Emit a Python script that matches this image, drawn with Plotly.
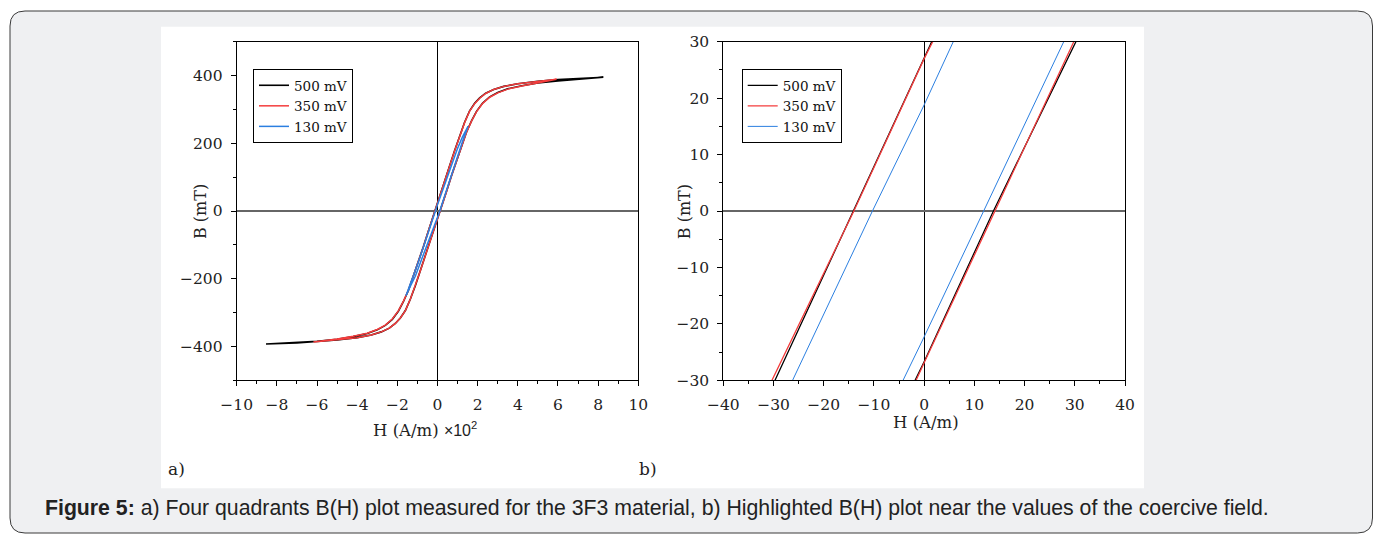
import plotly.graph_objects as go

# ---------------- data (H in A/m, B in mT) ----------------
series_names = ["500 mV", "350 mV", "130 mV"]

# 500 mV : descending branch (upper) then ascending branch (lower)
H_500_down = [826, 700, 600, 500, 400, 330, 280, 240, 210, 185, 160, 135, 110, 85, 60, 30, 1.5, 0, -14.1, -29.7,
              -45, -70, -95, -120, -145, -170, -195, -225, -260, -300, -350, -420, -500, -600, -700, -854]
B_500_down = [395, 392, 388, 383, 376, 368, 359, 348, 334, 318, 296, 262, 222, 178, 133, 80, 30, 27.1, 0, -30,
              -58, -105, -150, -195, -235, -268, -296, -320, -338, -351, -362, -371, -379, -385, -389, -393]
H_500_up = [-854, -700, -600, -500, -400, -330, -280, -240, -210, -185, -160, -135, -110, -85, -60, -30, -1.8, 0, 13.8, 29.5,
            45, 70, 95, 120, 145, 170, 195, 225, 260, 300, 350, 420, 500, 600, 700, 826]
B_500_up = [-393, -390, -386, -381, -374, -366, -357, -346, -332, -316, -294, -260, -220, -176, -131, -78, -30, -26.7, 0, 30,
            58, 105, 150, 194, 234, 267, 295, 319, 337, 350, 361, 370, 378, 384, 389, 395]

# 350 mV
H_350_down = [593, 500, 400, 330, 280, 240, 210, 185, 160, 135, 110, 85, 60, 30, 1.7, 0, -14.0, -29.7,
              -45, -70, -95, -120, -145, -170, -195, -225, -260, -300, -350, -420, -500, -618]
B_350_down = [389, 383, 376, 368, 359, 347, 333, 317, 295, 261, 221, 177, 132, 79, 30, 27.0, 0, -30,
              -58, -105, -150, -195, -234, -267, -295, -319, -337, -350, -361, -370, -378, -387]
H_350_up = [-618, -500, -400, -330, -280, -240, -210, -185, -160, -135, -110, -85, -60, -30, -1.6, 0, 14.1, 29.8,
            45, 70, 95, 120, 145, 170, 195, 225, 260, 300, 350, 420, 500, 593]
B_350_up = [-387, -380, -374, -366, -357, -346, -332, -316, -294, -260, -220, -176, -131, -78, -30, -26.9, 0, 30,
            57, 104, 149, 193, 233, 266, 294, 318, 336, 349, 360, 369, 378, 389]

# 130 mV
H_130_down = [152, 125, 100, 75, 50, 25, 5.8, 0, -10.3, -26.2, -50, -75, -100, -125, -145, -157]
B_130_down = [250, 220, 185, 145, 105, 62, 30, 18.8, 0, -30, -72, -115, -158, -200, -235, -250]
H_130_up = [-157, -135, -110, -85, -60, -35, -4.2, 0, 11.8, 27.8, 50, 75, 100, 125, 152]
B_130_up = [-250, -222, -192, -152, -114, -72, -30, -22.3, 0, 30, 71, 117, 162, 206, 250]

loops_H = [H_500_down + H_500_up, H_350_down + H_350_up, H_130_down + H_130_up]
loops_B = [B_500_down + B_500_up, B_350_down + B_350_up, B_130_down + B_130_up]

colors = ["#000000", "#f43c3c", "#2b7fe0"]
widths_left = [1.6, 1.5, 1.5]
widths_right = [1.3, 1.3, 1.0]

# ---------------- geometry helpers ----------------
W, Hh = 1380, 536
def px(x):
    return x / W
def py(y):
    return 1 - y / Hh

fig = go.Figure()

for name, hs, bs, c, w in zip(series_names, loops_H, loops_B, colors, widths_left):
    fig.add_trace(go.Scatter(x=[h / 100 for h in hs], y=bs, mode="lines", name=name,
                             line=dict(color=c, width=w), xaxis="x", yaxis="y",
                             legend="legend"))
for name, hs, bs, c, w in zip(series_names, loops_H, loops_B, colors, widths_right):
    fig.add_trace(go.Scatter(x=hs, y=bs, mode="lines", name=name,
                             line=dict(color=c, width=w), xaxis="x2", yaxis="y2",
                             legend="legend2"))

tickfont = dict(family="DejaVu Serif", size=15.5, color="#222")

def main_axis(domain, rng, dtick, minor, zcolor, zwidth, anchor):
    return dict(domain=domain, range=rng, dtick=dtick, tick0=0, ticks="outside", ticklen=5,
                tickwidth=1, tickcolor="#000", minor=dict(dtick=minor, ticks="outside", ticklen=3,
                                                         tickcolor="#000", tickwidth=1),
                showline=True, linecolor="#000", linewidth=1, mirror=True, showgrid=False,
                zeroline=True, zerolinecolor=zcolor, zerolinewidth=zwidth, tickfont=tickfont,
                ticklabelstandoff=5, anchor=anchor, fixedrange=True, automargin=False)

def overlay_axis(over, side, anchor, rng, dtick, minor):
    return dict(overlaying=over, side=side, anchor=anchor, range=rng, dtick=dtick, tick0=0,
                ticks="inside", ticklen=5, tickwidth=1, tickcolor="#000",
                minor=dict(dtick=minor, ticks="inside", ticklen=3, tickcolor="#000", tickwidth=1),
                showticklabels=False, showline=False, showgrid=False, zeroline=False,
                fixedrange=True, automargin=False)

xdomL = [px(236.7), px(638.3)]
xdomR = [px(723.3), px(1125)]
ydom = [py(380.3), py(41.7)]

legend_font = dict(family="DejaVu Serif", size=13.5, color="#111")
layout = dict(
    template="none",
    width=W, height=Hh, autosize=False,
    margin=dict(l=0, r=0, t=0, b=0, pad=0, autoexpand=False),
    paper_bgcolor="white", plot_bgcolor="rgba(0,0,0,0)",
    xaxis=main_axis(xdomL, [-10, 10], 2, 1, "#000", 1, "y"),
    yaxis=main_axis(ydom, [-500, 500], 200, 100, "#666", 1.5, "x"),
    xaxis2=main_axis(xdomR, [-40, 40], 10, 5, "#000", 1, "y2"),
    yaxis2=main_axis(ydom, [-30, 30], 10, 5, "#666", 1.5, "x2"),
    xaxis3=overlay_axis("x", "top", "y", [-10, 10], 2, 1),
    yaxis3=overlay_axis("y", "right", "x", [-500, 500], 200, 100),
    xaxis4=overlay_axis("x2", "top", "y2", [-40, 40], 10, 5),
    yaxis4=overlay_axis("y2", "right", "x2", [-30, 30], 10, 5),
    legend=dict(x=px(253), y=py(69), xanchor="left", yanchor="top", bgcolor="white",
                bordercolor="#000", borderwidth=1, itemwidth=30, font=legend_font),
    legend2=dict(x=px(741.7), y=py(69), xanchor="left", yanchor="top", bgcolor="white",
                 bordercolor="#000", borderwidth=1, itemwidth=30, font=legend_font),
    showlegend=True,
)
fig.update_layout(**layout)

# background panel (rounded) and white image area
x0, x1, y0, y1, r = 10, 1372.5, 11, 533, 15
path = (f"M {px(x0+r)} {py(y0)} L {px(x1-r)} {py(y0)} Q {px(x1)} {py(y0)} {px(x1)} {py(y0+r)} "
        f"L {px(x1)} {py(y1-r)} Q {px(x1)} {py(y1)} {px(x1-r)} {py(y1)} "
        f"L {px(x0+r)} {py(y1)} Q {px(x0)} {py(y1)} {px(x0)} {py(y1-r)} "
        f"L {px(x0)} {py(y0+r)} Q {px(x0)} {py(y0)} {px(x0+r)} {py(y0)} Z")
fig.add_shape(type="path", path=path, xref="paper", yref="paper", fillcolor="#eff0f2",
              line=dict(color="#3a3a3a", width=1), layer="below")
fig.add_shape(type="rect", x0=px(161), x1=px(1144), y0=py(488.3), y1=py(26.7), xref="paper",
              yref="paper", fillcolor="white", line=dict(width=0), layer="below")

titlefont = dict(family="DejaVu Serif", size=16.5, color="#222")
ann = [
    dict(x=px(371), y=py(429), xanchor="left", yanchor="middle",
         text="H (A/m) <span style='font-family:Liberation Sans;font-size:16px'>×10<sup>2</sup></span>",
         font=titlefont),
    dict(x=px(200.5), y=py(211.5), text="B (mT)", textangle=-90, font=dict(titlefont, size=16),
         xanchor="center", yanchor="middle"),
    dict(x=px(925.8), y=py(422.5), text="H (A/m)", font=titlefont, xanchor="center", yanchor="middle"),
    dict(x=px(684.7), y=py(211.5), text="B (mT)", textangle=-90, font=dict(titlefont, size=16),
         xanchor="center", yanchor="middle"),
    dict(x=px(176.5), y=py(469), text="a)", font=dict(family="DejaVu Serif", size=17, color="#222"),
         xanchor="center", yanchor="middle"),
    dict(x=px(647.5), y=py(469), text="b)", font=dict(family="DejaVu Serif", size=17, color="#222"),
         xanchor="center", yanchor="middle"),
    dict(x=px(42.5), y=py(508), xanchor="left", yanchor="middle",
         text="<b>Figure 5:</b> a) Four quadrants B(H) plot measured for the 3F3 material, "
              "b) Highlighted B(H) plot near the values of the coercive field.",
         font=dict(family="Liberation Sans", size=21.25, color="#222")),
]
for a in ann:
    a.update(xref="paper", yref="paper", showarrow=False)
fig.update_layout(annotations=ann)

fig.write_html("out.html", config={"displayModeBar": False, "staticPlot": True},
               post_script="document.body.style.margin='0';document.body.style.overflow='hidden';")
